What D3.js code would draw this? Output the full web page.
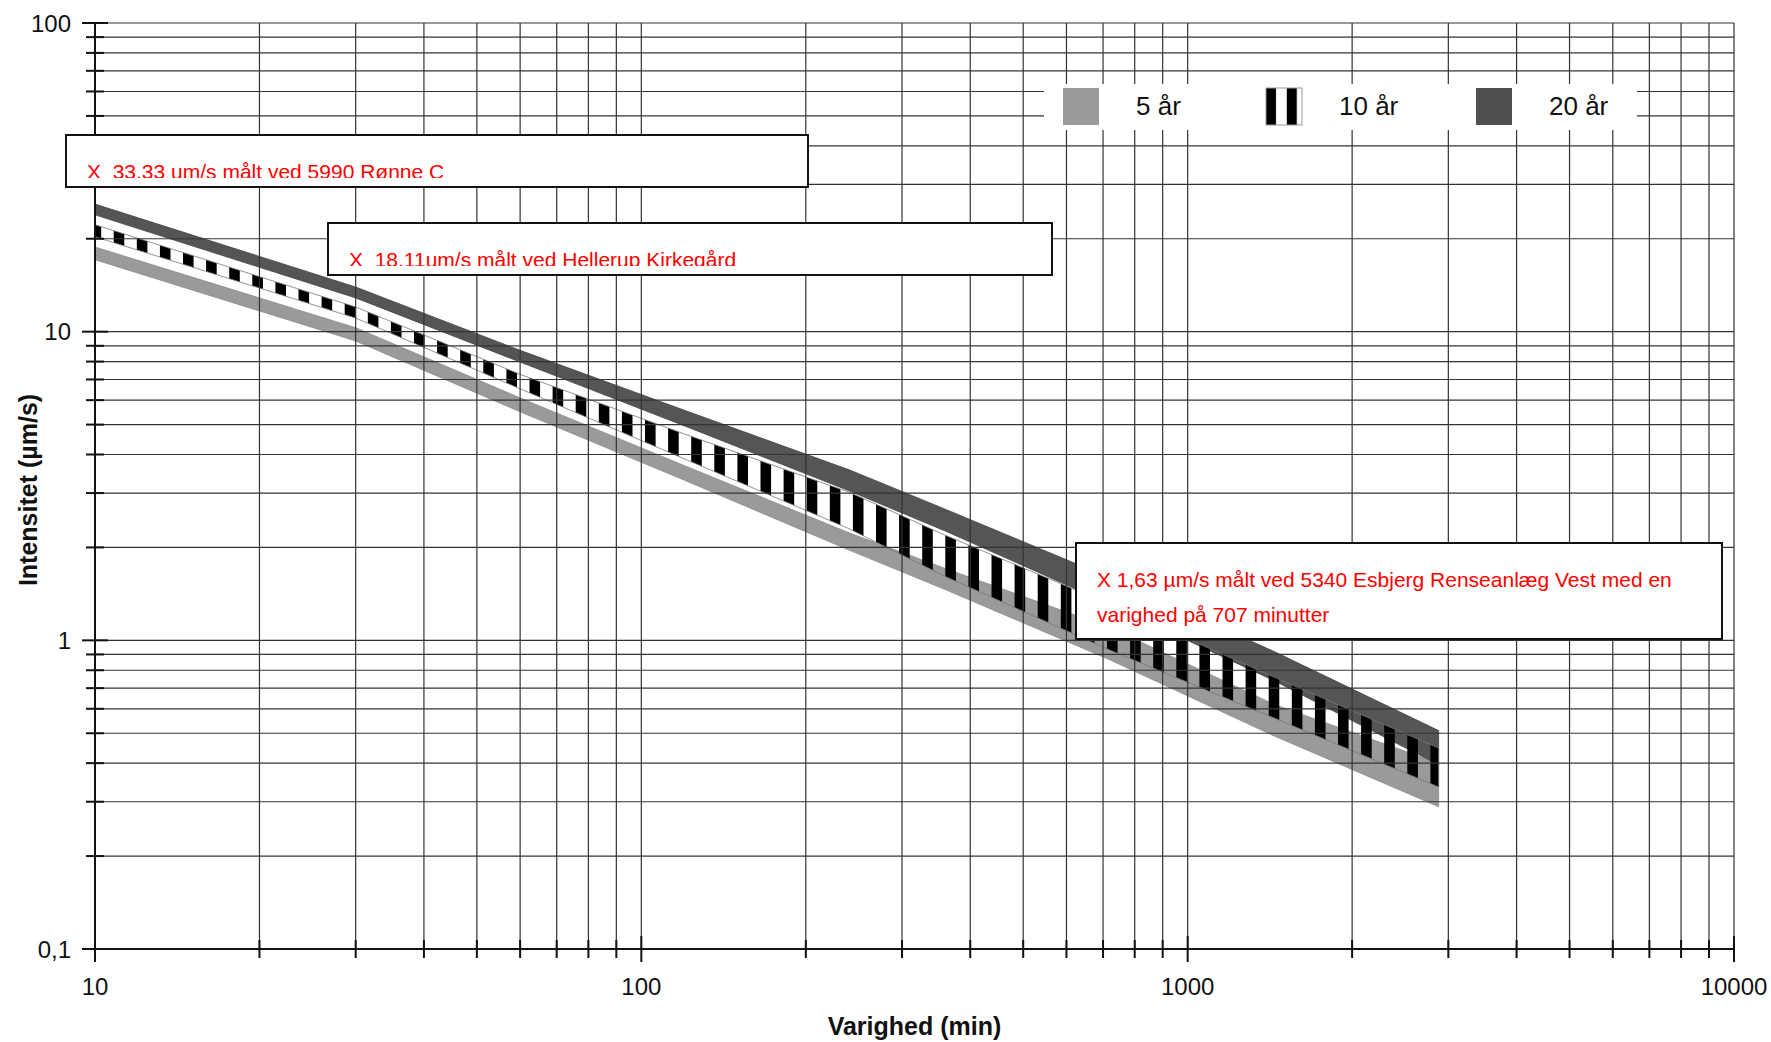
<!DOCTYPE html>
<html>
<head>
<meta charset="utf-8">
<script src="https://cdn.jsdelivr.net/npm/d3@7"></script>
<style>
  html, body { margin: 0; padding: 0; background: #fff; }
  svg { display: block; font-family: "Liberation Sans", Arial, sans-serif; }
</style>
</head>
<body>
<div id="chart"></div>
<script>
// durations in minutes, band edges in µm/s
const durations = [10, 30, 60, 120, 240, 360, 720, 1440, 2880];
const low5   = [17.1, 9.33, 5.5, 3.30, 1.96, 1.46, 0.865, 0.49, 0.289];
const high5  = [18.8, 10.3, 6.1, 3.68, 2.23, 1.71, 1.10, 0.62, 0.40];
const low10  = [20.3, 11.07, 6.53, 3.87, 2.30, 1.61, 0.93, 0.56, 0.335];
const high10 = [22.2, 12.02, 7.27, 4.66, 3.02, 2.19, 1.31, 0.76, 0.448];
const low20  = [23.9, 12.86, 7.97, 4.95, 3.05, 2.26, 1.31, 0.74, 0.395];
const high20 = [25.9, 13.95, 8.7, 5.56, 3.57, 2.66, 1.595, 0.92, 0.51];

const legendLabels = ["5 år", "10 år", "20 år"];
const xMajor = [10, 100, 1000, 10000];
const yMajor = [0.1, 1, 10, 100];
const yLabels = ["0,1", "1", "10", "100"];

const notes = [
  {lines: ["X  33.33 um/s målt ved 5990 Rønne C"], clip: true},
  {lines: ["X  18.11um/s målt ved Hellerup Kirkegård"], clip: true},
  {lines: ["X 1,63 µm/s målt ved 5340 Esbjerg Renseanlæg Vest med en", "varighed på 707 minutter"], clip: false}
];

const W = 1771, H = 1042;
const margin = {top: 23, right: 37, bottom: 93, left: 95};
const width = W - margin.left - margin.right;
const height = H - margin.top - margin.bottom;

const root = d3.select("#chart").append("svg")
  .attr("width", W)
  .attr("height", H);

const defs = root.append("defs");

// vertical black stripes, gaps left open
const pat = defs.append("pattern")
  .attr("id", "stripes")
  .attr("patternUnits", "userSpaceOnUse")
  .attr("x", -4.4).attr("y", 0)
  .attr("width", 23.1).attr("height", 10);
pat.append("rect").attr("width", 10.6).attr("height", 10).attr("fill", "#000");

const patLeg = defs.append("pattern")
  .attr("id", "stripesLegend")
  .attr("patternUnits", "userSpaceOnUse")
  .attr("x", 1266).attr("y", 0)
  .attr("width", 20.8).attr("height", 10);
patLeg.append("rect").attr("width", 10).attr("height", 10).attr("fill", "#000");

const svg = root.append("g")
  .attr("transform", `translate(${margin.left},${margin.top})`);

const x = d3.scaleLog().domain([10, 10000]).range([0, width]);
const y = d3.scaleLog().domain([0.1, 100]).range([height, 0]);

// bands
const bands = [
  {lo: low5, hi: high5, fill: "#9a9a9a", stroke: "#8a8a8a"},
  {lo: low20, hi: high20, fill: "#555555", stroke: "#444"},
  {lo: low10, hi: high10, fill: "url(#stripes)", stroke: "#777"}
];

const area = d3.area()
  .x(d => x(d.t))
  .y0(d => y(d.lo))
  .y1(d => y(d.hi));

bands.forEach(b => {
  const pts = durations.map((t, i) => ({t, lo: b.lo[i], hi: b.hi[i]}));
  svg.append("path")
    .datum(pts)
    .attr("d", area)
    .attr("fill", b.fill)
    .attr("stroke", b.stroke)
    .attr("stroke-width", 0.8);
});

// grid on top of the bands
const xTicks = x.ticks();
const yTicks = y.ticks();

svg.append("g").attr("class", "grid")
  .selectAll("line.v")
  .data(xTicks)
  .join("line")
    .attr("x1", d => x(d)).attr("x2", d => x(d))
    .attr("y1", 0).attr("y2", height)
    .attr("stroke", "#333")
    .attr("stroke-width", 1.2);

svg.append("g").attr("class", "grid")
  .selectAll("line.h")
  .data(yTicks)
  .join("line")
    .attr("x1", 0).attr("x2", width)
    .attr("y1", d => y(d)).attr("y2", d => y(d))
    .attr("stroke", "#333")
    .attr("stroke-width", 1.2);

const isMajor = v => Math.abs(Math.log10(v) - Math.round(Math.log10(v))) < 1e-9;

// ticks crossing the axes
svg.append("g")
  .selectAll("line")
  .data(yTicks)
  .join("line")
    .attr("x1", d => isMajor(d) ? -13 : -9)
    .attr("x2", d => isMajor(d) ? 13 : 9)
    .attr("y1", d => y(d)).attr("y2", d => y(d))
    .attr("stroke", "#111")
    .attr("stroke-width", 2);

svg.append("g")
  .selectAll("line")
  .data(xTicks)
  .join("line")
    .attr("x1", d => x(d)).attr("x2", d => x(d))
    .attr("y1", d => height - (isMajor(d) ? 13 : 9))
    .attr("y2", d => height + (isMajor(d) ? 13 : 9))
    .attr("stroke", "#111")
    .attr("stroke-width", 2);

svg.append("line")
  .attr("x1", 0).attr("x2", 0).attr("y1", 0).attr("y2", height)
  .attr("stroke", "#111").attr("stroke-width", 2);
svg.append("line")
  .attr("x1", 0).attr("x2", width).attr("y1", height).attr("y2", height)
  .attr("stroke", "#111").attr("stroke-width", 2);

// tick labels
svg.append("g")
  .selectAll("text")
  .data(yMajor)
  .join("text")
    .attr("x", -24)
    .attr("y", d => y(d))
    .attr("dy", "0.36em")
    .attr("text-anchor", "end")
    .attr("font-size", 24)
    .attr("fill", "#111")
    .text((d, i) => yLabels[i]);

svg.append("g")
  .selectAll("text")
  .data(xMajor)
  .join("text")
    .attr("x", d => x(d))
    .attr("y", height + 46)
    .attr("text-anchor", "middle")
    .attr("font-size", 24)
    .attr("fill", "#111")
    .text(d => d);

// axis titles
root.append("text")
  .attr("x", margin.left + width / 2)
  .attr("y", 1035)
  .attr("text-anchor", "middle")
  .attr("font-size", 25)
  .attr("font-weight", "bold")
  .attr("fill", "#111")
  .text("Varighed (min)");

root.append("text")
  .attr("transform", "rotate(-90)")
  .attr("x", -490)
  .attr("y", 37)
  .attr("text-anchor", "middle")
  .attr("font-size", 25)
  .attr("font-weight", "bold")
  .attr("fill", "#111")
  .text("Intensitet (µm/s)");

// legend
const legend = root.append("g");
legend.append("rect")
  .attr("x", 1044).attr("y", 84)
  .attr("width", 593).attr("height", 46)
  .attr("fill", "#fff");

const legendFills = ["#9a9a9a", "url(#stripesLegend)", "#505050"];
const legendX = [1063, 1266, 1476];
legendLabels.forEach((lab, i) => {
  legend.append("rect")
    .attr("x", legendX[i]).attr("y", 88)
    .attr("width", 36).attr("height", 37)
    .attr("fill", legendFills[i])
    .attr("stroke", i === 1 ? "#999" : "none")
    .attr("stroke-width", 1);
  legend.append("text")
    .attr("x", legendX[i] + 73)
    .attr("y", 115)
    .attr("font-size", 26)
    .attr("fill", "#111")
    .text(lab);
});

// note boxes
const boxes = [
  {x: 66, y: 135, w: 742, h: 52},
  {x: 328, y: 223, w: 724, h: 52},
  {x: 1076, y: 543, w: 646, h: 96}
];
const baselines = [[178.5], [267], [587, 622]];

notes.forEach((n, i) => {
  const b = boxes[i];
  const g = root.append("g");
  g.append("rect")
    .attr("x", b.x).attr("y", b.y)
    .attr("width", b.w).attr("height", b.h)
    .attr("fill", "#fff")
    .attr("stroke", "#111")
    .attr("stroke-width", 2);

  if (n.clip) {
    defs.append("clipPath").attr("id", "clip" + i)
      .append("rect")
      .attr("x", b.x).attr("y", b.y)
      .attr("width", b.w).attr("height", b.h - 9);
  }
  const tg = g.append("g").attr("clip-path", n.clip ? `url(#clip${i})` : null);
  n.lines.forEach((line, j) => {
    tg.append("text")
      .attr("x", b.x + 21)
      .attr("y", baselines[i][j])
      .attr("font-size", 21)
      .attr("fill", "#ff0000")
      .attr("xml:space", "preserve")
      .style("white-space", "pre")
      .text(line);
  });
});
</script>
</body>
</html>
